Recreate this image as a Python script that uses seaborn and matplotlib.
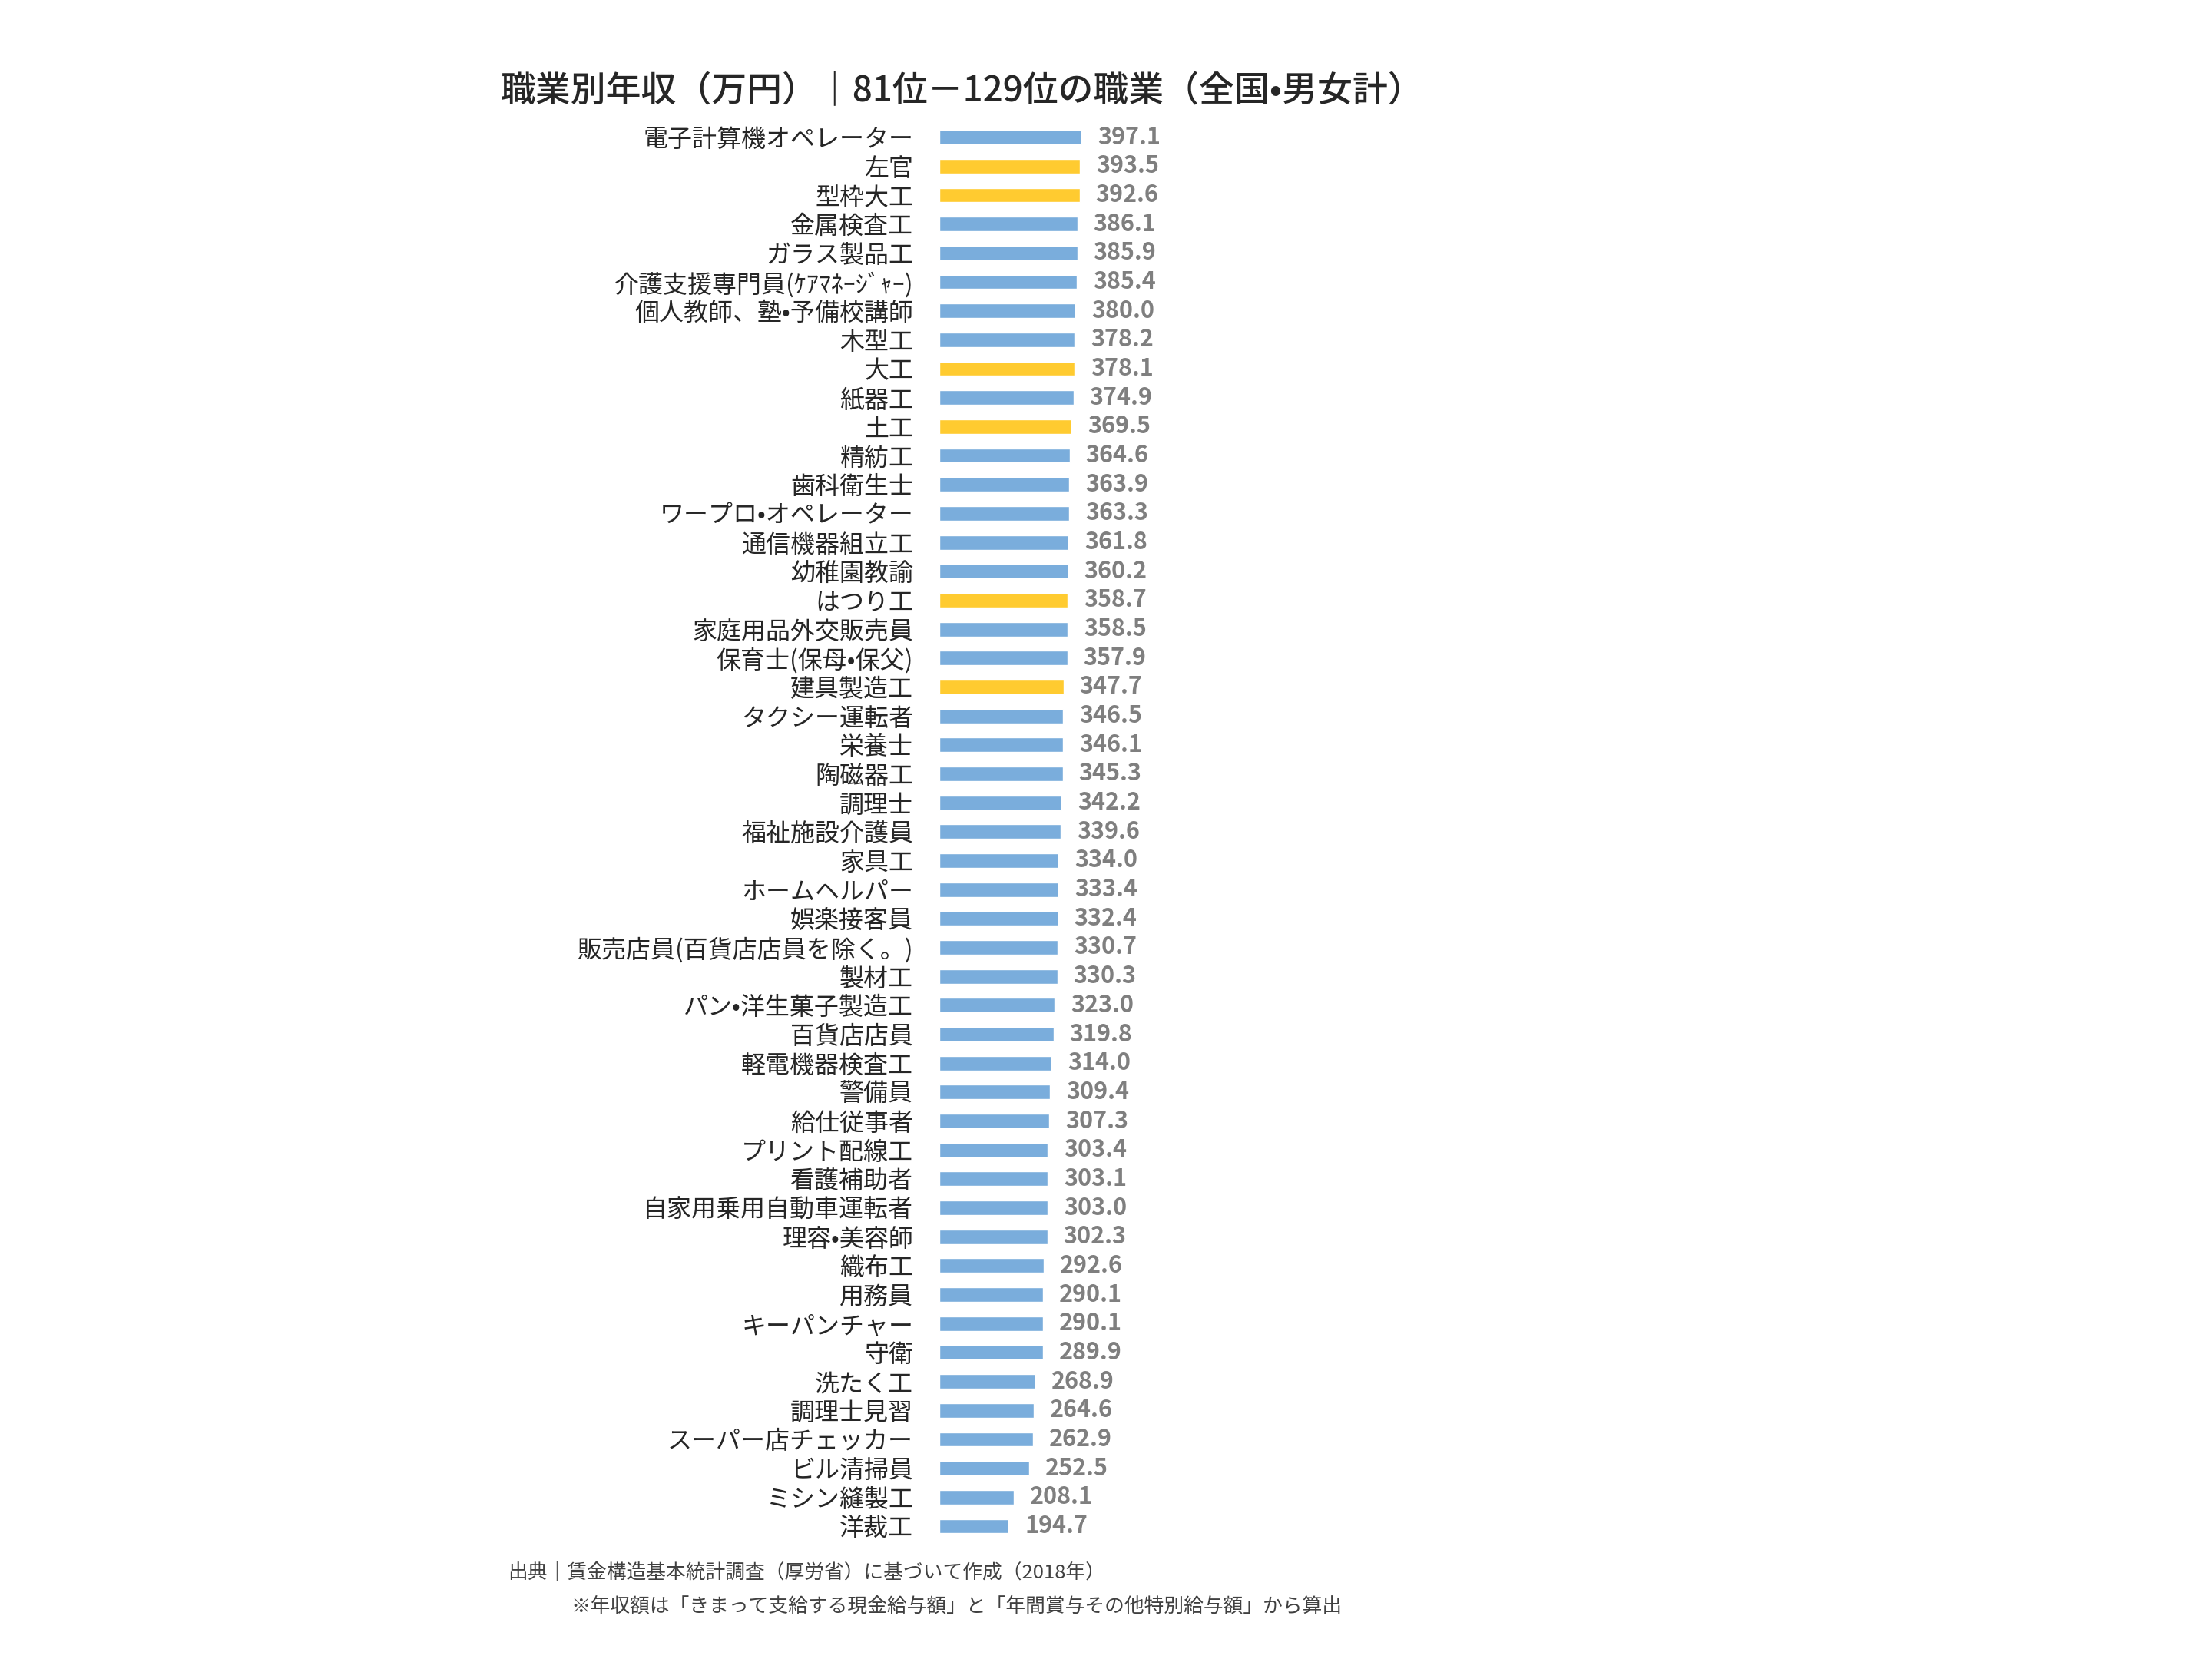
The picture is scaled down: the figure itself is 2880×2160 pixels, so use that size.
import matplotlib
matplotlib.use("Agg")
import matplotlib.pyplot as plt
import seaborn as sns
import pandas as pd

# 81位-129位 の職業と年収(万円)
jobs = [
    "電子計算機オペレーター", "左官", "型枠大工", "金属検査工", "ガラス製品工",
    "介護支援専門員(ｹｱﾏﾈｰｼﾞｬｰ)", "個人教師、塾•予備校講師", "木型工", "大工", "紙器工",
    "土工", "精紡工", "歯科衛生士", "ワープロ•オペレーター", "通信機器組立工",
    "幼稚園教諭", "はつり工", "家庭用品外交販売員", "保育士(保母•保父)", "建具製造工",
    "タクシー運転者", "栄養士", "陶磁器工", "調理士", "福祉施設介護員",
    "家具工", "ホームヘルパー", "娯楽接客員", "販売店員(百貨店店員を除く。)", "製材工",
    "パン•洋生菓子製造工", "百貨店店員", "軽電機器検査工", "警備員", "給仕従事者",
    "プリント配線工", "看護補助者", "自家用乗用自動車運転者", "理容•美容師", "織布工",
    "用務員", "キーパンチャー", "守衛", "洗たく工", "調理士見習",
    "スーパー店チェッカー", "ビル清掃員", "ミシン縫製工", "洋裁工",
]
income = [
    397.1, 393.5, 392.6, 386.1, 385.9,
    385.4, 380.0, 378.2, 378.1, 374.9,
    369.5, 364.6, 363.9, 363.3, 361.8,
    360.2, 358.7, 358.5, 357.9, 347.7,
    346.5, 346.1, 345.3, 342.2, 339.6,
    334.0, 333.4, 332.4, 330.7, 330.3,
    323.0, 319.8, 314.0, 309.4, 307.3,
    303.4, 303.1, 303.0, 302.3, 292.6,
    290.1, 290.1, 289.9, 268.9, 264.6,
    262.9, 252.5, 208.1, 194.7,
]
# 建設系の職業は黄色で強調
highlight = ["左官", "型枠大工", "大工", "土工", "はつり工", "建具製造工"]

df = pd.DataFrame({"job": jobs, "income": income})
df["group"] = ["hl" if j in highlight else "base" for j in jobs]
palette = {"base": "#7aaddc", "hl": "#ffcb30"}

sns.set_theme(style="white")
plt.rcParams["font.family"] = ["Noto Sans CJK JP", "DejaVu Sans"]

fig = plt.figure(figsize=(28.8, 21.6), dpi=100)
ax = fig.add_axes([0.4245, 0.0714, 0.1621, 0.8546])

sns.barplot(data=df, x="income", y="job", hue="group", palette=palette,
            dodge=False, width=0.5, legend=False, saturation=1, ax=ax)

ax.set_xlim(0, 1000)
ax.set_ylim(len(jobs) - 0.5, -0.5)
ax.set_xlabel("")
ax.set_ylabel("")
ax.set_xticks([])
ax.tick_params(axis="y", length=0, pad=24, labelsize=23, labelcolor="#262626")
for s in ax.spines.values():
    s.set_visible(False)

for i, v in enumerate(income):
    ax.annotate(f"{v:.1f}", xy=(v, i), xytext=(15, 0), textcoords="offset points",
                va="center", ha="left", fontsize=22, fontweight="bold",
                color="#7f7f7f", annotation_clip=False)

fig.text(652 / 2880, 1 - 118 / 2160, "職業別年収（万円）｜81位－129位の職業（全国•男女計）",
         fontsize=33, fontweight="medium", color="#262626", ha="left", va="center")

fig.text(661 / 2880, 1 - 2048 / 2160, "出典｜賃金構造基本統計調査（厚労省）に基づいて作成（2018年）",
         fontsize=18.5, color="#404040", ha="left", va="center")
fig.text(743 / 2880, 1 - 2092 / 2160,
         "※年収額は「きまって支給する現金給与額」と「年間賞与その他特別給与額」から算出",
         fontsize=18.5, color="#404040", ha="left", va="center")

fig.savefig("out.png", dpi=100, facecolor="white")
